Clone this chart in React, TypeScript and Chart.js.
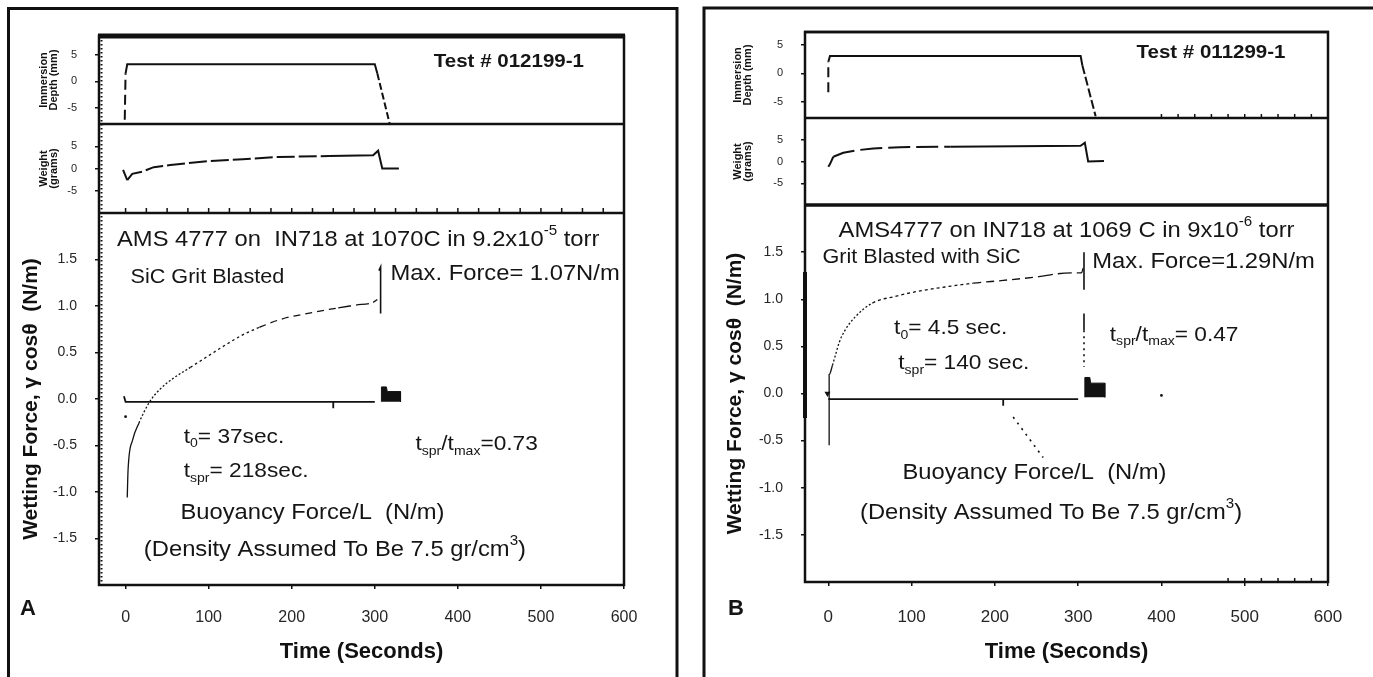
import React, { useEffect, useRef } from 'react';
import { Chart, registerables } from 'chart.js';

Chart.register(...registerables);

const FONT = '"Liberation Sans", Arial, Helvetica, sans-serif';
const INK = '#111111';
const TICK_INK = '#262626';
Chart.defaults.font.family = FONT;

/* ---------- shared axis values ---------- */
const timeTicks = [0, 100, 200, 300, 400, 500, 600];
const depthTicks = [-5, 0, 5];
const weightTicks = [-5, 0, 5];
const wetTicks = [-1.5, -1.0, -0.5, 0.0, 0.5, 1.0, 1.5];

/* ---------- Panel A (Test # 012199-1) ---------- */
const aDepthT = [-1, 0, 2, 300, 303, 318];
const aDepthV = [-7.2, 1.5, 3.2, 3.2, 1.5, -8];
const aWeightT = [-3, 2, 8, 20, 34, 54, 74, 102, 141, 183, 245, 298, 304, 309, 329];
const aWeightV = [-0.3, -2.6, -1.2, -0.7, 0.3, 0.8, 1.2, 1.7, 2.1, 2.6, 2.8, 3.0, 4.0, 0.0, 0.0];
const aWetT = [2, 3, 8.5, 16, 29, 42, 57, 78, 99, 120, 141, 161, 188, 225, 256, 277, 298, 303];
const aWetV = [-1.06, -0.76, -0.44, -0.26, -0.03, 0.11, 0.22, 0.34, 0.46, 0.58, 0.69, 0.77, 0.86, 0.93, 0.98, 1.01, 1.04, 1.07];
const aMaxT = [305, 307, 307];
const aMaxV = [1.38, 1.42, 0.92];
const aBuoyT = [-2, 0, 250, 250, 250, 300];
const aBuoyV = [0.03, -0.03, -0.03, -0.1, -0.03, -0.03];
const aBlobT = [308, 308, 314, 315, 331, 331];
const aBlobV = [-0.03, 0.13, 0.13, 0.08, 0.08, -0.03];
const aDotT = [0];
const aDotV = [-0.19];
const aMinorTicks = [0, 25, 50, 75, 100, 125, 150, 175, 200, 225, 250, 275, 300, 325, 350, 375, 400, 425, 450, 475, 500, 525, 550, 575];

/* ---------- Panel B (Test # 011299-1) ---------- */
const bDepthT = [0, 0, 2, 303, 305, 321];
const bDepthV = [-3.3, 2.0, 3.0, 3.0, 1.4, -7.5];
const bWeightT = [0, 2, 6, 18, 35, 54, 86, 147, 303, 308, 312, 331];
const bWeightV = [-1.2, -0.6, 1.1, 2.0, 2.6, 3.0, 3.3, 3.4, 3.6, 4.3, 0.0, 0.1];
const bWetT = [1, 1, 5, 8, 13, 20, 32, 53, 80, 105, 140, 174, 210, 253, 275, 300, 304, 306];
const bWetV = [-0.55, 0.2, 0.3, 0.39, 0.54, 0.67, 0.81, 0.96, 1.03, 1.08, 1.13, 1.17, 1.2, 1.24, 1.27, 1.28, 1.28, 1.33];
const bMaxT = [307, 307];
const bMaxV = [1.5, 1.1];
const bMaxLowT = [307, 307];
const bMaxLowV = [0.85, 0.67];
const bMaxDotT = [307, 307];
const bMaxDotV = [0.67, 0.28];
const bBuoyT = [0, 210, 210, 210, 300];
const bBuoyV = [-0.06, -0.06, -0.13, -0.06, -0.06];
const bLeaderT = [222, 258];
const bLeaderV = [-0.25, -0.68];
const bBlobT = [308, 308, 314, 315, 332, 332];
const bBlobV = [-0.04, 0.17, 0.17, 0.11, 0.11, -0.04];
const bMarkT = [-1];
const bMarkV = [0.0];
const bDotT = [400];
const bDotV = [-0.02];
const bBarT = [-28, -28];
const bBarV = [1.29, -0.26];
const bMinorTop = [400, 420, 440, 460, 480, 500, 520, 540, 560, 580];
const bMinorBottom = [480, 500, 520, 540, 560, 580];

const pts = (t: number[], v: number[]) => t.map((x, i) => ({ x, y: v[i] }));

type Seg = [string, string?];

function drawRich(ctx: CanvasRenderingContext2D, x: number, y: number, segs: Seg[], size: number, bold: boolean, align: string, hscale: number) {
  const fontFor = (m?: string) => `${bold ? 'bold ' : ''}${m ? Math.round(size * 0.62) : size}px ${FONT}`;
  let total = 0;
  const widths = segs.map(([s, m]) => {
    ctx.font = fontFor(m);
    const w = ctx.measureText(s).width;
    total += w;
    return w;
  });
  ctx.save();
  ctx.translate(x, y);
  ctx.scale(hscale, 1);
  let cx = align === 'center' ? -total / 2 : 0;
  ctx.textBaseline = 'middle';
  ctx.textAlign = 'left';
  ctx.fillStyle = '#151515';
  segs.forEach(([s, m], i) => {
    ctx.font = fontFor(m);
    const dy = m === 'sub' ? size * 0.32 : m === 'sup' ? -size * 0.4 : 0;
    ctx.fillText(s, cx, dy);
    cx += widths[i];
  });
  ctx.restore();
}

const decorPlugin = {
  id: 'decor',
  afterDraw(chart: any, _args: any, opts: any) {
    const { ctx, chartArea: ca, scales } = chart;
    ctx.save();
    ctx.strokeStyle = INK;
    ctx.lineCap = 'butt';
    // panel frame
    ctx.lineWidth = 3;
    ctx.beginPath();
    ctx.moveTo(opts.frame.left, 800);
    ctx.lineTo(opts.frame.left, opts.frame.top);
    ctx.lineTo(opts.frame.right, opts.frame.top);
    if (opts.frame.closeRight) ctx.lineTo(opts.frame.right, 800);
    ctx.stroke();
    // plot box
    ctx.lineWidth = 2.5;
    ctx.strokeRect(ca.left, ca.top, ca.right - ca.left, ca.bottom - ca.top);
    // top border
    ctx.lineWidth = opts.topWidth;
    ctx.beginPath();
    ctx.moveTo(ca.left - 1, ca.top);
    ctx.lineTo(ca.right + 1, ca.top);
    ctx.stroke();
    // dividers
    const d1 = scales.yDepth.bottom;
    const d2 = scales.yWeight.bottom;
    ctx.lineWidth = opts.div1Width;
    ctx.beginPath();
    ctx.moveTo(ca.left, d1);
    ctx.lineTo(ca.right, d1);
    ctx.stroke();
    ctx.lineWidth = opts.div2Width;
    ctx.beginPath();
    ctx.moveTo(ca.left, d2);
    ctx.lineTo(ca.right, d2);
    ctx.stroke();
    // minor ticks
    ctx.lineWidth = 1.5;
    (opts.minor || []).forEach((m: any) => {
      const yb = m.axis === 'x' ? ca.bottom : scales[m.axis].bottom;
      m.values.forEach((t: number) => {
        const px = scales.x.getPixelForValue(t);
        ctx.beginPath();
        ctx.moveTo(px, yb);
        ctx.lineTo(px, yb - m.len);
        ctx.stroke();
      });
    });
    // dotted left-axis texture
    if (opts.leftDots) {
      ctx.lineWidth = 2;
      ctx.setLineDash([1.5, 2.5]);
      ctx.beginPath();
      ctx.moveTo(ca.left + 2.5, ca.top);
      ctx.lineTo(ca.left + 2.5, ca.bottom);
      ctx.stroke();
      ctx.setLineDash([]);
    }
    // texts
    (opts.texts || []).forEach((it: any) => {
      const x = it.px !== undefined ? it.px : scales.x.getPixelForValue(it.x);
      const y = it.py !== undefined ? it.py : scales[it.axis].getPixelForValue(it.y);
      drawRich(ctx, x, y, it.segs, it.size, !!it.bold, it.align || 'left', it.hscale ?? 1.08);
    });
    ctx.restore();
  },
};

function yAxis(o: any) {
  return {
    type: 'linear',
    position: 'left',
    stack: 'panel',
    stackWeight: o.stackWeight,
    weight: o.weight,
    min: o.min,
    max: o.max,
    afterBuildTicks: (s: any) => {
      s.ticks = o.ticks.map((v: number) => ({ value: v }));
    },
    afterFit: (s: any) => {
      s.width = 80;
    },
    ticks: {
      autoSkip: false,
      padding: 18,
      color: TICK_INK,
      font: { size: o.tickSize, family: FONT },
      callback: (v: any) => o.fmt(Number(v)),
    },
    grid: { display: true, drawOnChartArea: false, drawTicks: true, tickLength: 4, color: INK, lineWidth: 1.5 },
    border: { display: true, color: INK, width: 2 },
    title: {
      display: true,
      text: o.title,
      color: '#111',
      font: { size: o.titleSize, weight: 'bold', family: FONT, lineHeight: o.titleLH },
      padding: { top: o.titlePad, bottom: 0 },
    },
  };
}

const line = (data: any, yAxisID: string, extra: any = {}) => ({
  data,
  yAxisID,
  xAxisID: 'x',
  borderColor: INK,
  backgroundColor: INK,
  borderWidth: 2,
  pointRadius: 0,
  tension: 0,
  fill: false,
  ...extra,
});

function makeConfig(p: any) {
  return {
    type: 'line',
    data: { datasets: p.datasets },
    plugins: [decorPlugin],
    options: {
      responsive: false,
      animation: false,
      devicePixelRatio: 1,
      layout: { padding: p.padding },
      plugins: {
        legend: { display: false },
        tooltip: { enabled: false },
        decor: p.decor,
      },
      scales: {
        x: {
          type: 'linear',
          position: 'bottom',
          min: p.xMin,
          max: 600,
          afterBuildTicks: (s: any) => {
            s.ticks = timeTicks.map((v) => ({ value: v }));
          },
          afterFit: (s: any) => {
            s.height = p.xH;
          },
          ticks: { autoSkip: false, maxRotation: 0, padding: p.xPad, color: TICK_INK, font: { size: p.xTickSize, family: FONT } },
          grid: { display: true, drawOnChartArea: false, tickLength: 4, color: INK, lineWidth: 1.5 },
          border: { display: true, color: INK, width: 2 },
          title: {
            display: true,
            text: 'Time (Seconds)',
            color: '#111',
            font: { size: 22, weight: 'bold', family: FONT },
            padding: { top: 0, bottom: 5 },
          },
        },
        yDepth: yAxis({
          stackWeight: p.hDepth, weight: 3, min: p.depthMin, max: p.depthMax, ticks: depthTicks,
          tickSize: 11, fmt: (v: number) => String(v), title: ['Immersion', 'Depth (mm)'],
          titleSize: 11, titleLH: 0.9, titlePad: p.smallTitlePad,
        }),
        yWeight: yAxis({
          stackWeight: p.hWeight, weight: 2, min: -10, max: 10, ticks: weightTicks,
          tickSize: 11, fmt: (v: number) => String(v), title: ['Weight', '(grams)'],
          titleSize: 11, titleLH: 0.9, titlePad: p.smallTitlePad,
        }),
        yWet: yAxis({
          stackWeight: p.hWet, weight: 1, min: -2, max: 2, ticks: wetTicks,
          tickSize: 14, fmt: (v: number) => v.toFixed(1), title: 'Wetting Force, \u03B3 cos\u03B8  (N/m)',
          titleSize: 21, titleLH: 1.0, titlePad: p.wetTitlePad,
        }),
      },
    },
  };
}

function configA() {
  return makeConfig({
    xMin: -32,
    padding: { left: 19, right: 66, top: 36, bottom: 7 },
    xH: 85,
    xPad: 19,
    xTickSize: 16,
    hDepth: 88,
    hWeight: 89,
    hWet: 372,
    depthMin: -8,
    depthMax: 8.5,
    smallTitlePad: 20,
    wetTitlePad: 1.5,
    datasets: [
      line(pts(aDepthT, aDepthV), 'yDepth', {
        segment: { borderDash: (c: any) => (c.p0DataIndex === 0 ? [10, 5] : c.p0DataIndex >= 4 ? [7, 3] : undefined) },
      }),
      line(pts(aWeightT, aWeightV), 'yWeight', {
        segment: { borderDash: (c: any) => (c.p0.parsed.x < 220 && c.p0.parsed.x > 1 ? [18, 4] : undefined) },
      }),
      line(pts(aWetT, aWetV), 'yWet', {
        borderWidth: 1.3,
        cubicInterpolationMode: 'monotone',
        segment: {
          borderDash: (c: any) => {
            const x = c.p0.parsed.x;
            return x < 10 ? undefined : x < 60 ? [2, 2] : x < 150 ? [2.5, 3] : x < 230 ? [7, 5] : x < 297 ? [13, 5] : undefined;
          },
        },
      }),
      line(pts(aMaxT, aMaxV), 'yWet', { borderWidth: 1.6 }),
      line(pts(aBuoyT, aBuoyV), 'yWet', { borderWidth: 1.8 }),
      line(pts(aBlobT, aBlobV), 'yWet', { borderWidth: 1, fill: { value: -0.03 } }),
      line(pts(aDotT, aDotV), 'yWet', { showLine: false, pointRadius: 1.4, borderWidth: 0 }),
    ],
    decor: {
      frame: { left: 8.5, top: 8.5, right: 677, closeRight: true },
      topWidth: 5,
      div1Width: 2.7,
      div2Width: 2.7,
      leftDots: true,
      minor: [{ axis: 'yWeight', values: aMinorTicks, len: 5 }],
      texts: [
        { axis: 'yDepth', x: 371, y: 3.62, segs: [['Test # 012199-1']], size: 19, bold: true },
        { axis: 'yWet', x: 280, y: 1.71, segs: [['AMS 4777 on  IN718 at 1070C in 9.2x10'], ['-5', 'sup'], [' torr']], size: 22, align: 'center' },
        { axis: 'yWet', x: 6, y: 1.31, segs: [['SiC Grit Blasted']], size: 20 },
        { axis: 'yWet', x: 319, y: 1.35, segs: [['Max. Force= 1.07N/m']], size: 22 },
        { axis: 'yWet', x: 70, y: -0.41, segs: [['t'], ['0', 'sub'], ['= 37sec.']], size: 21 },
        { axis: 'yWet', x: 70, y: -0.78, segs: [['t'], ['spr', 'sub'], ['= 218sec.']], size: 21 },
        { axis: 'yWet', x: 349, y: -0.49, segs: [['t'], ['spr', 'sub'], ['/t'], ['max', 'sub'], ['=0.73']], size: 21 },
        { axis: 'yWet', x: 66, y: -1.23, segs: [['Buoyancy Force/L  (N/m)']], size: 22 },
        { axis: 'yWet', x: 22, y: -1.62, segs: [['(Density Assumed To Be 7.5 gr/cm'], ['3', 'sup'], [')']], size: 22 },
        { px: 28, py: 609, segs: [['A']], size: 22, bold: true, align: 'center', hscale: 1 },
      ],
    },
  });
}

function configB() {
  return makeConfig({
    xMin: -28,
    padding: { left: 35, right: 45, top: 32, bottom: 7 },
    xH: 88,
    xPad: 21,
    xTickSize: 17,
    hDepth: 86,
    hWeight: 87,
    hWet: 377,
    depthMin: -7.8,
    depthMax: 7.2,
    smallTitlePad: 8,
    wetTitlePad: 0,
    datasets: [
      line(pts(bDepthT, bDepthV), 'yDepth', {
        segment: { borderDash: (c: any) => (c.p0DataIndex === 0 ? [10, 5] : c.p0DataIndex >= 4 ? [9, 3] : undefined) },
      }),
      line(pts(bWeightT, bWeightV), 'yWeight', {
        segment: { borderDash: (c: any) => (c.p0.parsed.x < 140 && c.p0.parsed.x > 5 ? [22, 6] : undefined) },
      }),
      line(pts(bWetT, bWetV), 'yWet', {
        borderWidth: 1.3,
        cubicInterpolationMode: 'monotone',
        segment: {
          borderDash: (c: any) => {
            const x = c.p0.parsed.x;
            return x < 2 ? undefined : x < 50 ? [2, 2] : x < 150 ? [3, 3] : x < 250 ? [8, 5] : x < 299 ? [14, 5] : undefined;
          },
        },
      }),
      line(pts(bMaxT, bMaxV), 'yWet', { borderWidth: 1.6 }),
      line(pts(bMaxLowT, bMaxLowV), 'yWet', { borderWidth: 1.6 }),
      line(pts(bMaxDotT, bMaxDotV), 'yWet', { borderWidth: 1.6, borderDash: [2, 4] }),
      line(pts(bBuoyT, bBuoyV), 'yWet', { borderWidth: 1.8 }),
      line(pts(bLeaderT, bLeaderV), 'yWet', { borderWidth: 1.6, borderDash: [2, 5] }),
      line(pts(bBlobT, bBlobV), 'yWet', { borderWidth: 1, fill: { value: -0.04 } }),
      line(pts(bMarkT, bMarkV), 'yWet', { showLine: false, pointRadius: 3.5, pointStyle: 'triangle', rotation: 180, borderWidth: 0 }),
      line(pts(bDotT, bDotV), 'yWet', { showLine: false, pointRadius: 1.4, borderWidth: 0 }),
      line(pts(bBarT, bBarV), 'yWet', { borderWidth: 4, clip: false }),
    ],
    decor: {
      frame: { left: 14, top: 8, right: 700, closeRight: false },
      topWidth: 2.5,
      div1Width: 2.5,
      div2Width: 3.5,
      leftDots: false,
      minor: [
        { axis: 'yDepth', values: bMinorTop, len: 4 },
        { axis: 'x', values: bMinorBottom, len: 4 },
      ],
      texts: [
        { axis: 'yDepth', x: 370, y: 3.54, segs: [['Test # 011299-1']], size: 19, bold: true },
        { axis: 'yWet', x: 286, y: 1.73, segs: [['AMS4777 on IN718 at 1069 C in 9x10'], ['-6', 'sup'], [' torr']], size: 22, align: 'center' },
        { axis: 'yWet', x: -7, y: 1.44, segs: [['Grit Blasted with SiC']], size: 20 },
        { axis: 'yWet', x: 317, y: 1.40, segs: [['Max. Force=1.29N/m']], size: 22 },
        { axis: 'yWet', x: 79, y: 0.69, segs: [['t'], ['0', 'sub'], ['= 4.5 sec.']], size: 21 },
        { axis: 'yWet', x: 84, y: 0.32, segs: [['t'], ['spr', 'sub'], ['= 140 sec.']], size: 21 },
        { axis: 'yWet', x: 338, y: 0.62, segs: [['t'], ['spr', 'sub'], ['/t'], ['max', 'sub'], ['= 0.47']], size: 21 },
        { axis: 'yWet', x: 89, y: -0.84, segs: [['Buoyancy Force/L  (N/m)']], size: 22 },
        { axis: 'yWet', x: 38, y: -1.27, segs: [['(Density Assumed To Be 7.5 gr/cm'], ['3', 'sup'], [')']], size: 22 },
        { px: 46, py: 609, segs: [['B']], size: 22, bold: true, align: 'center', hscale: 1 },
      ],
    },
  });
}

function Panel({ make, left, width }: { make: () => any; left: number; width: number }) {
  const ref = useRef<HTMLCanvasElement>(null);
  useEffect(() => {
    const chart = new Chart(ref.current as HTMLCanvasElement, make());
    return () => chart.destroy();
  }, []);
  return (
    <canvas
      ref={ref}
      width={width}
      height={677}
      style={{ position: 'absolute', left, top: 0, width, height: 677, display: 'block' }}
    />
  );
}

export default function App() {
  return (
    <div style={{ position: 'absolute', left: 0, top: 0, width: 1373, height: 677, background: '#fff', overflow: 'hidden' }}>
      <Panel make={configA} left={0} width={690} />
      <Panel make={configB} left={690} width={683} />
    </div>
  );
}
